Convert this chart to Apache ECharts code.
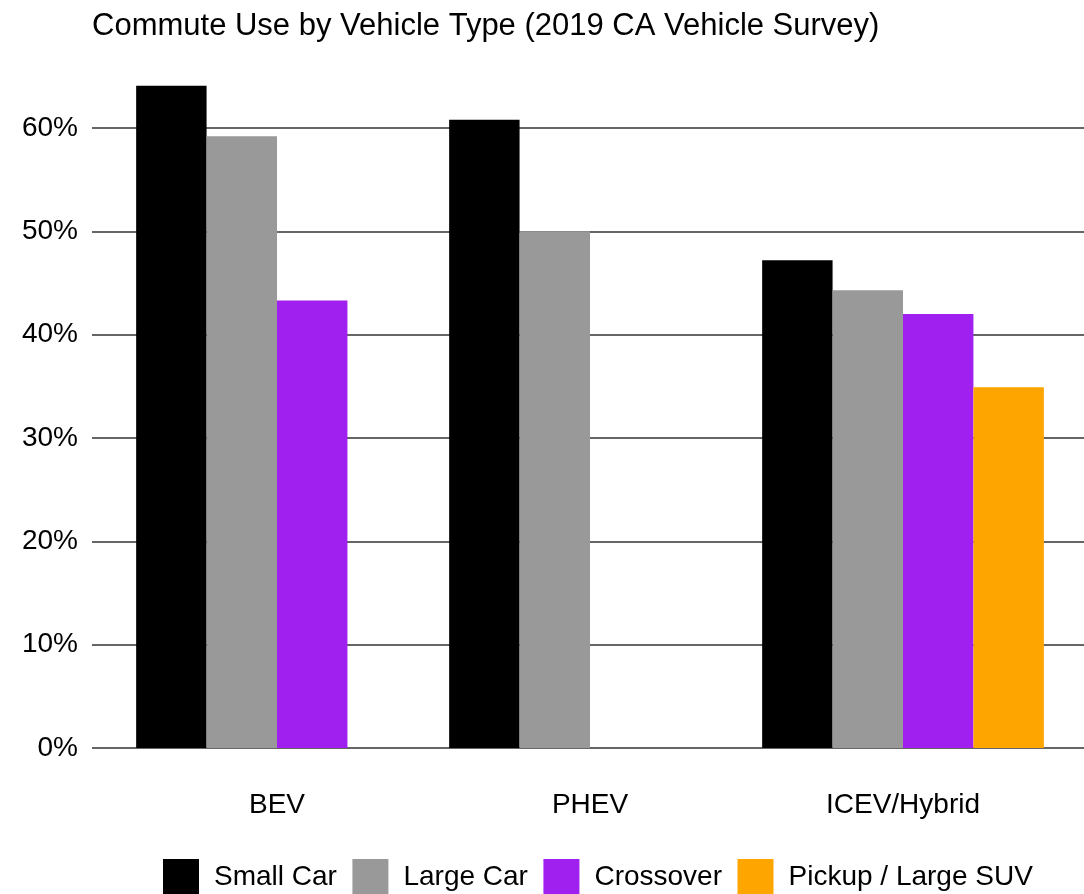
<!DOCTYPE html>
<html>
<head>
<meta charset="utf-8">
<script src="https://cdn.jsdelivr.net/npm/echarts@6/dist/echarts.min.js"></script>
<style>
  html, body { margin: 0; padding: 0; background: #fff; }
  #chart { width: 1084px; height: 894px; }
</style>
</head>
<body>
<div id="chart"></div>
<script>
// chart data
const categories = ['BEV', 'PHEV', 'ICEV/Hybrid'];
const seriesNames = ['Small Car', 'Large Car', 'Crossover', 'Pickup / Large SUV'];
const smallCar = [64.1, 60.8, 47.2];
const largeCar = [59.2, 50.0, 44.3];
const crossover = [43.3, null, 42.0];
const pickupSuv = [null, null, 34.9];
const yTicks = [0, 10, 20, 30, 40, 50, 60];

const colors = ['#000000', '#999999', '#A020F0', '#FFA500'];
const fontFamily = '"Liberation Sans", Arial, sans-serif';

let values = [smallCar, largeCar, crossover, pickupSuv];
let series = [];
for (let i = 0; i < values.length; i++) {
  series.push({
    name: seriesNames[i],
    type: 'bar',
    xAxisIndex: 0,
    yAxisIndex: 0,
    data: values[i],
    clip: false,
    barGap: '0%',
    barCategoryGap: '10%',
    itemStyle: { color: colors[i] },
    animation: false
  });
}

const chart = echarts.init(document.getElementById('chart'));
chart.setOption({
  backgroundColor: '#fff',
  textStyle: { fontFamily: fontFamily },
  title: {
    text: 'Commute Use by Vehicle Type (2019 CA Vehicle Survey)',
    left: 87,
    top: 6,
    textStyle: { fontSize: 31, fontWeight: 'normal', color: '#000', fontFamily: fontFamily }
  },
  legend: {
    data: seriesNames,
    left: 158,
    top: 854,
    itemWidth: 36,
    itemHeight: 36,
    itemGap: 15.5,
    icon: 'rect',
    textStyle: { fontSize: 28, color: '#000', padding: [0, 0, 0, 10], fontFamily: fontFamily }
  },
  grid: [
    // bars
    { left: 120.5, right: 24.5, top: 128, bottom: 146 },
    // gridlines + y labels, wider than the bar area
    { left: 92, right: 0, top: 128, bottom: 146 }
  ],
  xAxis: [
    {
      type: 'category',
      gridIndex: 0,
      data: categories,
      axisLine: { show: false },
      axisTick: { show: false },
      axisLabel: { fontSize: 28, color: '#000', margin: 43, fontFamily: fontFamily }
    },
    { type: 'value', gridIndex: 1, min: 0, max: 1, show: false }
  ],
  yAxis: [
    {
      type: 'value',
      gridIndex: 0,
      min: yTicks[0],
      max: yTicks[yTicks.length - 1],
      interval: 10,
      show: false,
      splitLine: { show: false }
    },
    {
      type: 'value',
      gridIndex: 1,
      min: yTicks[0],
      max: yTicks[yTicks.length - 1],
      interval: 10,
      axisLine: { show: false },
      axisTick: { show: false },
      axisLabel: {
        formatter: '{value}%',
        fontSize: 28,
        color: '#000',
        margin: 14,
        fontFamily: fontFamily
      },
      splitLine: { show: true, lineStyle: { color: '#666', width: 2 } }
    }
  ],
  series: series
});
</script>
</body>
</html>
